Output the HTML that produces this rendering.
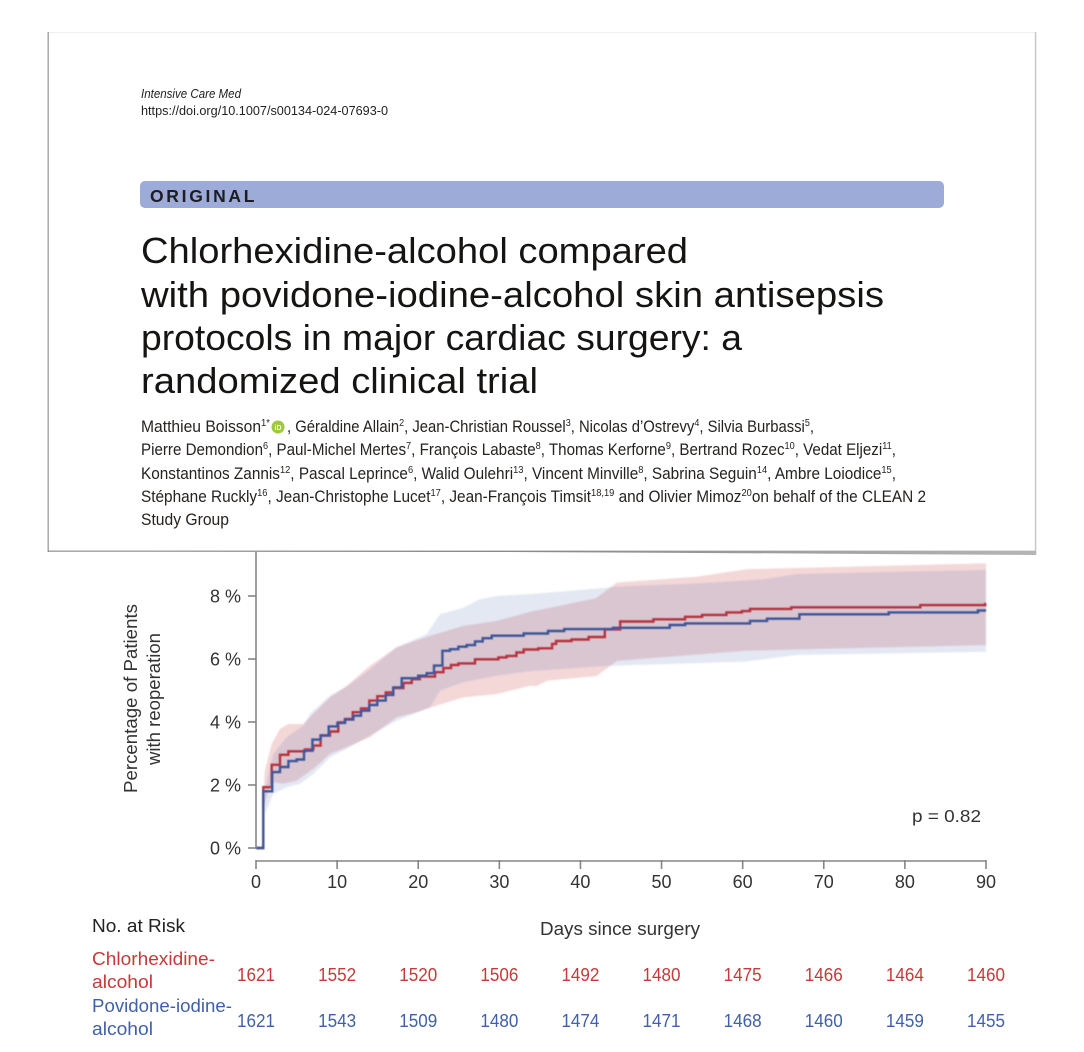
<!DOCTYPE html>
<html lang="en">
<head>
<meta charset="utf-8">
<title>Chlorhexidine-alcohol compared with povidone-iodine-alcohol</title>
<style>
html,body{margin:0;padding:0;background:#fff;width:1084px;height:1052px;overflow:hidden}
svg{display:block;font-family:"Liberation Sans",Arial,sans-serif}
.au{font-size:16.5px;fill:#26221f}
.au tspan.s{font-size:10px}
.tt{font-size:36px;fill:#161412}
.ax{font-size:18px;fill:#333}
</style>
</head>
<body>
<svg id="page" width="1084" height="1052" viewBox="0 0 1084 1052" xmlns="http://www.w3.org/2000/svg">
<defs>
<filter id="soft" x="-5%" y="-5%" width="110%" height="110%"><feGaussianBlur stdDeviation="0.45"/></filter>
<filter id="softer" x="-5%" y="-5%" width="110%" height="110%"><feGaussianBlur stdDeviation="0.8"/></filter>
<linearGradient id="bottomEdge" x1="0" x2="1" y1="0" y2="0">
<stop offset="0" stop-color="#777"/><stop offset="0.5" stop-color="#8a8a8a"/><stop offset="1" stop-color="#b5b5b5"/>
</linearGradient>
<clipPath id="riskClip"><rect x="80" y="900" width="925" height="150"/></clipPath>
</defs>
<rect x="48" y="33" width="987" height="518" fill="#fff"/>
<line x1="48" x2="1035" y1="32.5" y2="32.5" stroke="#f0f0f0" stroke-width="1"/>
<line x1="48.2" x2="48.2" y1="32" y2="552" stroke="#a8a8a8" stroke-width="1.5"/>
<line x1="1035.6" x2="1035.6" y1="32" y2="555" stroke="#c8c8c8" stroke-width="1.5"/>
<polygon points="48,550.6 1036,550.6 1036,555 800,553.5 500,552 48,551.6" fill="url(#bottomEdge)"/>
<text x="141" y="98" font-size="12.5" font-style="italic" fill="#222" textLength="100" lengthAdjust="spacingAndGlyphs">Intensive Care Med</text>
<text x="141" y="115" font-size="12.5" fill="#222" textLength="247" lengthAdjust="spacingAndGlyphs">https://doi.org/10.1007/s00134-024-07693-0</text>
<rect x="140" y="181" width="804" height="27" rx="5" fill="#9dabd8"/>
<text x="150" y="202" font-size="17.5" font-weight="bold" fill="#1d1d22" letter-spacing="2.7">ORIGINAL</text>
<g>
<text class="tt" x="141" y="263" textLength="547" lengthAdjust="spacingAndGlyphs">Chlorhexidine-alcohol compared</text>
<text class="tt" x="141" y="307" textLength="743" lengthAdjust="spacingAndGlyphs">with povidone-iodine-alcohol skin antisepsis</text>
<text class="tt" x="141" y="350" textLength="601" lengthAdjust="spacingAndGlyphs">protocols in major cardiac surgery: a</text>
<text class="tt" x="141" y="393" textLength="397" lengthAdjust="spacingAndGlyphs">randomized clinical trial</text>
</g>
<g>
<text class="au" x="141" y="432" textLength="129" lengthAdjust="spacingAndGlyphs">Matthieu Boisson<tspan class="s" dy="-6">1*</tspan></text>
<circle cx="278" cy="427" r="6.5" fill="#9cc93f"/>
<text x="278" y="430" font-size="7" font-weight="bold" fill="#fff" text-anchor="middle">iD</text>
<text class="au" x="287" y="432" textLength="527" lengthAdjust="spacingAndGlyphs">, Géraldine Allain<tspan class="s" dy="-6">2</tspan><tspan dy="6">, Jean-Christian Roussel</tspan><tspan class="s" dy="-6">3</tspan><tspan dy="6">, Nicolas d’Ostrevy</tspan><tspan class="s" dy="-6">4</tspan><tspan dy="6">, Silvia Burbassi</tspan><tspan class="s" dy="-6">5</tspan><tspan dy="6">,</tspan></text>
<text class="au" x="141" y="455" textLength="755" lengthAdjust="spacingAndGlyphs">Pierre Demondion<tspan class="s" dy="-6">6</tspan><tspan dy="6">, Paul-Michel Mertes</tspan><tspan class="s" dy="-6">7</tspan><tspan dy="6">, François Labaste</tspan><tspan class="s" dy="-6">8</tspan><tspan dy="6">, Thomas Kerforne</tspan><tspan class="s" dy="-6">9</tspan><tspan dy="6">, Bertrand Rozec</tspan><tspan class="s" dy="-6">10</tspan><tspan dy="6">, Vedat Eljezi</tspan><tspan class="s" dy="-6">11</tspan><tspan dy="6">,</tspan></text>
<text class="au" x="141" y="479" textLength="755" lengthAdjust="spacingAndGlyphs">Konstantinos Zannis<tspan class="s" dy="-6">12</tspan><tspan dy="6">, Pascal Leprince</tspan><tspan class="s" dy="-6">6</tspan><tspan dy="6">, Walid Oulehri</tspan><tspan class="s" dy="-6">13</tspan><tspan dy="6">, Vincent Minville</tspan><tspan class="s" dy="-6">8</tspan><tspan dy="6">, Sabrina Seguin</tspan><tspan class="s" dy="-6">14</tspan><tspan dy="6">, Ambre Loiodice</tspan><tspan class="s" dy="-6">15</tspan><tspan dy="6">,</tspan></text>
<text class="au" x="141" y="502" textLength="785" lengthAdjust="spacingAndGlyphs">Stéphane Ruckly<tspan class="s" dy="-6">16</tspan><tspan dy="6">, Jean-Christophe Lucet</tspan><tspan class="s" dy="-6">17</tspan><tspan dy="6">, Jean-François Timsit</tspan><tspan class="s" dy="-6">18,19</tspan><tspan dy="6"> and Olivier Mimoz</tspan><tspan class="s" dy="-6">20</tspan><tspan dy="6">on behalf of the CLEAN 2</tspan></text>
<text class="au" x="141" y="525" textLength="88" lengthAdjust="spacingAndGlyphs">Study Group</text>
</g>
<g id="chart">
<g id="bands" filter="url(#softer)"></g>
<g id="lines" filter="url(#soft)"></g>
<g id="yaxis"></g>
<g id="xaxis"></g>
<g font-size="18" fill="#333">
<text transform="translate(137 793) rotate(-90)" textLength="189" lengthAdjust="spacingAndGlyphs">Percentage of Patients</text>
<text transform="translate(160 765) rotate(-90)" textLength="132" lengthAdjust="spacingAndGlyphs">with reoperation</text>
</g>
<text x="912" y="822" font-size="17.5" fill="#333" textLength="69" lengthAdjust="spacingAndGlyphs">p = 0.82</text>
</g>
<g id="risk" clip-path="url(#riskClip)">
<text x="92" y="932" font-size="18" fill="#222" textLength="93" lengthAdjust="spacingAndGlyphs">No. at Risk</text>
<text x="540" y="935" font-size="18" fill="#333" textLength="160" lengthAdjust="spacingAndGlyphs">Days since surgery</text>
<text x="92" y="965" font-size="18" fill="#c43a3a" textLength="123" lengthAdjust="spacingAndGlyphs">Chlorhexidine-</text>
<text x="92" y="988" font-size="18" fill="#c43a3a" textLength="61" lengthAdjust="spacingAndGlyphs">alcohol</text>
<text x="92" y="1012" font-size="18" fill="#4060a8" textLength="140" lengthAdjust="spacingAndGlyphs">Povidone-iodine-</text>
<text x="92" y="1035" font-size="18" fill="#4060a8" textLength="61" lengthAdjust="spacingAndGlyphs">alcohol</text>
</g>
</svg>
<script>
const xTicks = [0,10,20,30,40,50,60,70,80,90];
const yTicks = [0,2,4,6,8];
const riskChlorhexidine = [1621,1552,1520,1506,1492,1480,1475,1466,1464,1460];
const riskPovidone = [1621,1543,1509,1480,1474,1471,1468,1460,1459,1455];

const redDays = [0,0.9,1.93,2.96,3.99,6.04,7.07,7.97,9.12,10.15,10.97,11.92,12.95,13.97,14.96,15.99,16.93,18.17,19.2,20.2,22.07,23.1,24.04,24.95,27,29.88,30.9,32.1,33,34.8,36.5,37,38.9,41,43,44.9,49,52.9,55,58,59.9,60.9,66,81.9,89.9,90];
const redValues = [0,1.93,2.64,2.96,3.07,3.13,3.25,3.57,3.7,3.99,4.1,4.31,4.43,4.68,4.82,4.94,5.08,5.24,5.36,5.44,5.58,5.71,5.81,5.86,5.99,6.05,6.1,6.21,6.3,6.34,6.48,6.57,6.62,6.7,6.94,7.19,7.26,7.34,7.4,7.48,7.52,7.59,7.64,7.71,7.75,7.75];
const blueDays = [0,0.9,2,2.96,3.99,5,5.92,6.95,7.97,8.96,10.03,10.97,11.99,12.95,13.97,14.96,15.99,16.93,17.96,20,21.04,21.95,22.98,23.92,24.95,25.98,27,27.95,29.06,33,36,38,44,51,52.9,60.9,63,67,78,89,90];
const blueValues = [0,1.8,2.41,2.57,2.76,2.81,3.09,3.44,3.57,3.86,3.97,4.08,4.2,4.36,4.54,4.68,4.86,5.1,5.39,5.47,5.55,5.79,6.26,6.31,6.39,6.44,6.56,6.66,6.74,6.81,6.89,6.95,6.99,7.08,7.13,7.21,7.28,7.42,7.48,7.54,7.54];

const redUpperDays = [0.9,1.1,1.93,2.96,3.99,5.84,7.07,9.12,11.18,14.06,17.34,21.46,25.56,29.68,33.8,41.9,44.5,54.3,60.5,81,90];
const redUpperValues = [1.62,2.46,3.3,3.78,3.94,3.94,4.26,4.78,5.15,5.79,6.37,6.74,7.05,7.21,7.5,7.93,8.43,8.61,8.85,8.98,9.04];
const redLowerDays = [0.9,1.93,3.37,5,7.07,9.12,11.18,14.06,17.34,19.8,22.28,25.56,29.68,33.8,34.6,35.85,42,44.5,60.5,66.7,90];
const redLowerValues = [1.3,2.09,2.04,2.14,2.51,2.99,3.2,3.52,4.15,4.31,4.52,4.78,4.89,5.15,5.14,5.31,5.46,5.94,6.26,6.3,6.44];
const blueUpperDays = [0.9,2.14,3.78,5.84,6.66,9.12,11.18,14.06,17.34,21.04,22.69,25.56,27.62,29.68,33.8,42.4,44.5,54.3,62.6,66.7,90];
const blueUpperValues = [1.62,2.99,3.52,3.89,4.26,4.84,5.12,5.68,6.37,6.79,7.42,7.63,7.9,8,8.06,8.24,8.3,8.4,8.53,8.7,8.83];
const blueLowerDays = [1.1,2.14,3.78,5.43,7.07,9.12,11.18,14.06,17.34,21.46,22.69,25.56,29.68,33.8,42,44.5,60.5,66.7,90];
const blueLowerValues = [1.09,1.72,1.93,2.04,2.35,2.88,3.15,3.57,4.04,4.47,4.99,5.26,5.47,5.61,5.76,5.79,5.92,6.13,6.23];

const NS = 'http://www.w3.org/2000/svg';
const axisColor = '#858585';
function xScale(d){ return 256 + d * (986 - 256) / 90; }
function yScale(v){ return 848 - v * (848 - 596) / 8; }

function bandPath(upD, upV, loD, loV){
  const pts = [];
  upD.forEach(function(d,i){ pts.push(xScale(d).toFixed(1) + ',' + yScale(upV[i]).toFixed(1)); });
  for (let i = loD.length - 1; i >= 0; i--) { pts.push(xScale(loD[i]).toFixed(1) + ',' + yScale(loV[i]).toFixed(1)); }
  return 'M' + pts.join('L') + 'Z';
}
function stepPath(days, vals){
  let p = 'M' + xScale(days[0]).toFixed(1) + ' ' + yScale(vals[0]).toFixed(1);
  for (let i = 1; i < days.length; i++) {
    p += 'H' + xScale(days[i]).toFixed(1) + 'V' + yScale(vals[i]).toFixed(1);
  }
  return p;
}

const bands = document.getElementById('bands');
const redBand = document.createElementNS(NS,'path');


redBand.setAttribute('d', bandPath(redUpperDays, redUpperValues, redLowerDays, redLowerValues));
redBand.setAttribute('fill', 'rgba(200,60,60,0.2)');
bands.appendChild(redBand);
const blueBand = document.createElementNS(NS,'path');


blueBand.setAttribute('d', bandPath(blueUpperDays, blueUpperValues, blueLowerDays, blueLowerValues));
blueBand.setAttribute('fill', 'rgba(60,100,170,0.15)');
bands.appendChild(blueBand);

const lines = document.getElementById('lines');
const redLine = document.createElementNS(NS,'path');


redLine.setAttribute('d', stepPath(redDays, redValues));
redLine.setAttribute('fill', 'none');
redLine.setAttribute('stroke', '#b5333c');
redLine.setAttribute('stroke-width', '2.4');
lines.appendChild(redLine);
const blueLine = document.createElementNS(NS,'path');


blueLine.setAttribute('d', stepPath(blueDays, blueValues));
blueLine.setAttribute('fill', 'none');
blueLine.setAttribute('stroke', '#3c5598');
blueLine.setAttribute('stroke-width', '2.4');
lines.appendChild(blueLine);

const yaxis = document.getElementById('yaxis');
const yLine = document.createElementNS(NS,'line');


yLine.setAttribute('x1', 256);
yLine.setAttribute('x2', 256);
yLine.setAttribute('y1', 552);
yLine.setAttribute('y2', yScale(0));
yLine.setAttribute('stroke', axisColor);
yLine.setAttribute('stroke-width', '1.6');
yaxis.appendChild(yLine);
yTicks.forEach(function(t){
  const tick = document.createElementNS(NS,'line');
  
  
  tick.setAttribute('x1', 248);
  tick.setAttribute('x2', 256);
  tick.setAttribute('y1', yScale(t));
  tick.setAttribute('y2', yScale(t));
  tick.setAttribute('stroke', axisColor);
  tick.setAttribute('stroke-width', '1.6');
  yaxis.appendChild(tick);
  const label = document.createElementNS(NS,'text');
  
  
  label.setAttribute('class', 'ax');
  label.setAttribute('x', 241);
  label.setAttribute('y', yScale(t) + 6.5);
  label.setAttribute('text-anchor', 'end');
  label.textContent = t + ' %';
  yaxis.appendChild(label);
});

const xaxis = document.getElementById('xaxis');
const xLine = document.createElementNS(NS,'line');


xLine.setAttribute('x1', xScale(0));
xLine.setAttribute('x2', xScale(90));
xLine.setAttribute('y1', 861);
xLine.setAttribute('y2', 861);
xLine.setAttribute('stroke', axisColor);
xLine.setAttribute('stroke-width', '1.6');
xaxis.appendChild(xLine);
xTicks.forEach(function(t){
  const tick = document.createElementNS(NS,'line');
  
  
  tick.setAttribute('x1', xScale(t));
  tick.setAttribute('x2', xScale(t));
  tick.setAttribute('y1', 860);
  tick.setAttribute('y2', 869);
  tick.setAttribute('stroke', axisColor);
  tick.setAttribute('stroke-width', '1.6');
  xaxis.appendChild(tick);
  const label = document.createElementNS(NS,'text');
  
  
  label.setAttribute('class', 'ax');
  label.setAttribute('x', xScale(t));
  label.setAttribute('y', 888);
  label.setAttribute('text-anchor', 'middle');
  label.textContent = t;
  xaxis.appendChild(label);
});

const risk = document.getElementById('risk');
xTicks.forEach(function(t,i){
  const a = document.createElementNS(NS,'text');
  
  
  a.setAttribute('x', xScale(t));
  a.setAttribute('y', 981);
  a.setAttribute('text-anchor', 'middle');
  a.setAttribute('font-size', '18');
  a.setAttribute('fill', '#c43a3a');
  a.setAttribute('textLength', '38');
  a.setAttribute('lengthAdjust', 'spacingAndGlyphs');
  a.textContent = riskChlorhexidine[i];
  risk.appendChild(a);
  const b = document.createElementNS(NS,'text');
  
  
  b.setAttribute('x', xScale(t));
  b.setAttribute('y', 1027);
  b.setAttribute('text-anchor', 'middle');
  b.setAttribute('font-size', '18');
  b.setAttribute('fill', '#4060a8');
  b.setAttribute('textLength', '38');
  b.setAttribute('lengthAdjust', 'spacingAndGlyphs');
  b.textContent = riskPovidone[i];
  risk.appendChild(b);
});
</script>
</body>
</html>
